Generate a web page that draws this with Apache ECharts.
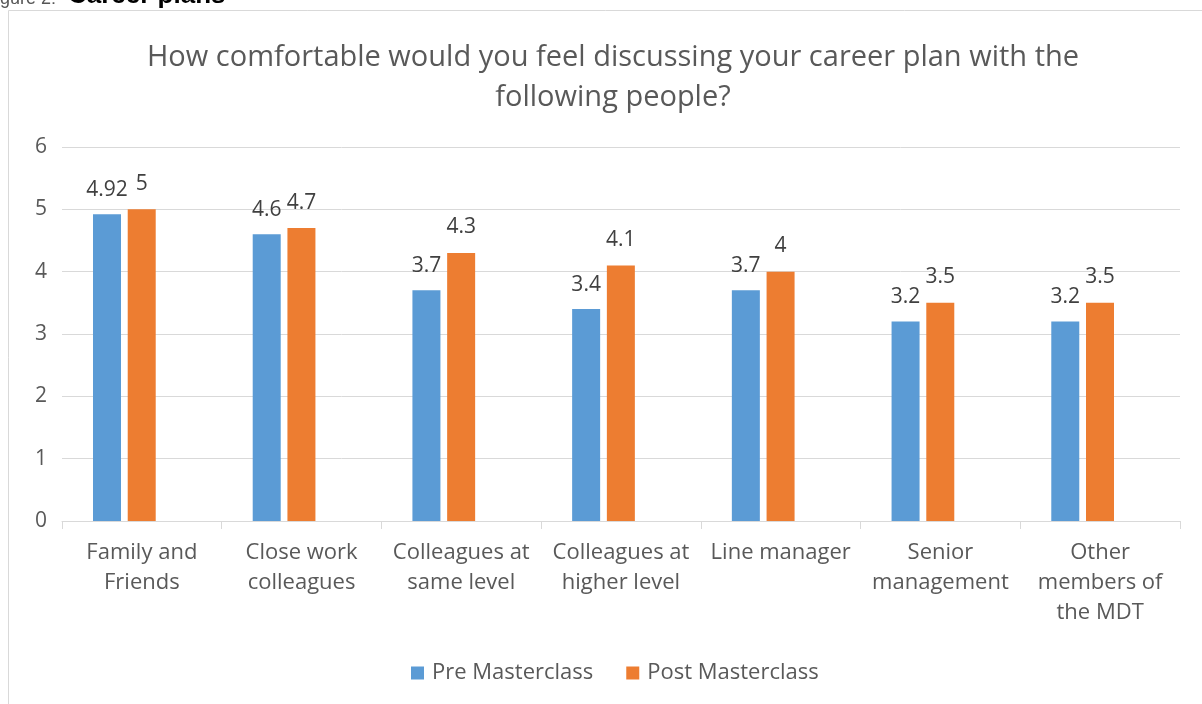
<!DOCTYPE html>
<html>
<head>
<meta charset="utf-8">
<script src="https://cdn.jsdelivr.net/npm/echarts@6/dist/echarts.min.js"></script>
<style>html,body{margin:0;padding:0;background:#fff;}#c{width:1202px;height:704px;}</style>
</head>
<body>
<div id="c"></div>
<script>
const categories = ["Family and\nFriends", "Close work\ncolleagues", "Colleagues at\nsame level", "Colleagues at\nhigher level", "Line manager", "Senior\nmanagement", "Other\nmembers of\nthe MDT"];
const preMasterclass = [4.92, 4.6, 3.7, 3.4, 3.7, 3.2, 3.2];
const postMasterclass = [5, 4.7, 4.3, 4.1, 4, 3.5, 3.5];
const yTicks = [0, 1, 2, 3, 4, 5, 6];

const font = "'Open Sans', 'Noto Sans', sans-serif";
const arial = "'Liberation Sans', Arial, sans-serif";
const chart = echarts.init(document.getElementById('c'));
chart.setOption({
  animation: false,
  textStyle: { fontFamily: font },
  graphic: [
    { type: 'rect', shape: { x: 8.5, y: 10.5, width: 1400, height: 900 }, style: { fill: 'none', stroke: '#d9d9d9', lineWidth: 1 }, silent: true },
    { type: 'text', style: { x: -15, y: -1, text: 'Figure 2:', fontSize: 18, fill: '#555', fontFamily: arial, verticalAlign: 'middle' }, silent: true },
    { type: 'text', style: { x: 68, y: -4, text: 'Career plans', fontSize: 26, fontWeight: 'bold', fill: '#000', fontFamily: arial, verticalAlign: 'middle' }, silent: true }
  ],
  title: {
    text: 'How comfortable would you feel discussing your career plan with the\nfollowing people?',
    left: 608, top: 33, textAlign: 'center',
    textStyle: { fontSize: 29, fontWeight: 'normal', color: '#595959', lineHeight: 40, fontFamily: font }
  },
  legend: {
    top: 657, left: 406, icon: 'rect', itemWidth: 13, itemHeight: 13, itemGap: 33,
    textStyle: { fontSize: 22, color: '#595959', fontFamily: font, padding: [0, 0, 0, 3] },
    data: ['Pre Masterclass', 'Post Masterclass']
  },
  grid: [
    { left: 62, right: 22, top: 147, bottom: 183 },
    { left: 44.5, right: 39.5, top: 147, bottom: 183 }
  ],
  xAxis: [
    {
      gridIndex: 0, type: 'category', data: categories,
      axisLine: { lineStyle: { color: '#d9d9d9' } },
      axisTick: { show: true, length: 8, lineStyle: { color: '#d9d9d9' } },
      axisLabel: { interval: 0, fontSize: 22, color: '#595959', lineHeight: 30, margin: 17, fontFamily: font }
    },
    { gridIndex: 1, type: 'category', data: categories, show: false }
  ],
  yAxis: [
    {
      gridIndex: 0, type: 'value', min: yTicks[0], max: yTicks[yTicks.length - 1], interval: 1,
      axisLine: { show: false }, axisTick: { show: false },
      splitLine: { lineStyle: { color: '#d9d9d9' } },
      axisLabel: { fontSize: 21, color: '#595959', margin: 15, fontFamily: font }
    },
    { gridIndex: 1, type: 'value', min: yTicks[0], max: yTicks[yTicks.length - 1], interval: 1, show: false, splitLine: { show: false } }
  ],
  series: [
    { name: 'Pre Masterclass', type: 'bar', xAxisIndex: 1, yAxisIndex: 1, data: preMasterclass, barWidth: 28, barGap: '24%',
      itemStyle: { color: '#5B9BD5' },
      label: { show: true, position: 'top', distance: 14, fontSize: 21, color: '#404040', fontFamily: font } },
    { name: 'Post Masterclass', type: 'bar', xAxisIndex: 1, yAxisIndex: 1, data: postMasterclass, barWidth: 28,
      itemStyle: { color: '#ED7D31' },
      label: { show: true, position: 'top', distance: 15, fontSize: 21, color: '#404040', fontFamily: font } }
  ]
});
</script>
</body>
</html>
